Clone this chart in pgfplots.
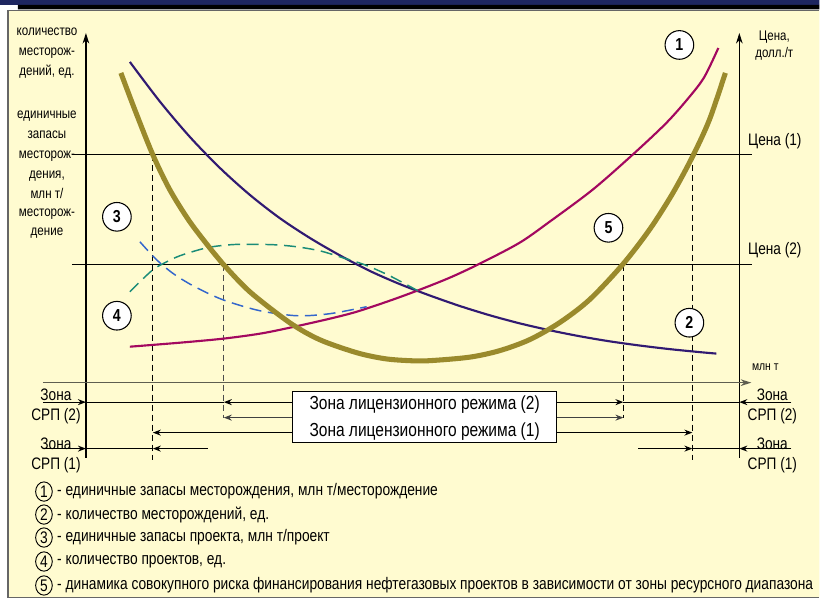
\documentclass[border=0pt]{standalone}
\usepackage{pgfplots}
\pgfplotsset{compat=1.18}
\usepackage{fontspec}
\setmainfont[FakeStretch=0.82]{Liberation Sans}
\usetikzlibrary{arrows.meta,shapes.geometric}
\definecolor{panel}{HTML}{FFFBD0}
\definecolor{topnavy}{HTML}{1E2660}
\definecolor{cmag}{HTML}{A3085F}
\definecolor{cnavy}{HTML}{311A72}
\definecolor{colive}{HTML}{9A8A2C}
\definecolor{cteal}{HTML}{1A8C78}
\definecolor{cblue}{HTML}{3366CC}
\definecolor{xaxc}{HTML}{5E5E50}
\newcommand\fs[1]{\fontsize{#1}{#1}\selectfont}
\begin{document}
\begin{tikzpicture}
\begin{axis}[width=615pt,height=451.5pt,scale only axis,
  xmin=0,xmax=820,ymin=0,ymax=602,y dir=reverse,
  hide axis,clip=false]
% frame
\addplot[fill=white,draw=none] coordinates {(0,0)(820,0)(820,602)(0,602)(0,0)};
\addplot[fill=topnavy,draw=none] coordinates {(0,0)(820,0)(820,5)(0,5)(0,0)};
\addplot[fill=black,draw=none] coordinates {(18,5)(820,5)(820,9.5)(18,9.5)(18,5)};
\addplot[fill=panel,draw=none] coordinates {(8,10.5)(820,10.5)(820,598)(8,598)(8,10.5)};
\addplot[draw=gray!80!black,line width=1.1pt] coordinates {(820,10.5)(8,10.5)(8,598)(820,598)};
% price lines
\addplot[black,line width=0.8pt] coordinates {(72,155)(753,155)};
\addplot[black,line width=0.8pt] coordinates {(72,265)(753,265)};
% dashed verticals
\addplot[black,line width=0.8pt,dash pattern=on 4.5pt off 3pt] coordinates {(153,155)(153,460)};
\addplot[gray!60!black,line width=0.9pt,dash pattern=on 4.5pt off 3pt] coordinates {(224,265)(224,418)};
\addplot[black,line width=0.8pt,dash pattern=on 4.5pt off 3pt] coordinates {(624,265)(624,418)};
\addplot[black,line width=0.8pt,dash pattern=on 4.5pt off 3pt] coordinates {(693,155)(693,460)};
% axes
\addplot[black,line width=0.9pt,-{Stealth[length=8pt,width=5pt]}] coordinates {(86,458)(86,33)};
\addplot[black,line width=0.9pt,-{Stealth[length=8pt,width=5pt]}] coordinates {(740,458)(740,33)};
\addplot[xaxc,line width=1.1pt,-{Stealth[length=8pt,width=5pt]}] coordinates {(43,383)(752,383)};
% curve 2 (navy)
\addplot[cnavy,line width=1.6pt,smooth] coordinates {(130,62)(160,101.6)(190,137)(220,168)(250,195)(280,218.3)(310,238.1)(340,255.5)(370,271.1)(400,284.3)(430,295.7)(460,306.2)(490,315.5)(520,323.6)(550,330.5)(580,336.5)(610,341.6)(640,345.8)(670,349.4)(700,352.4)(717,353.9)};
% curve 1 (magenta)
\addplot[cmag,line width=1.6pt,smooth] coordinates {(130,347)(180,343)(223,339)(260,334)(290,328)(330,319)(357,312)(390,301)(420,290)(450,278)(480,264)(520,243)(550,222)(593,190)(633,155)(667,123)(690,97)(705,77)(719,48)};
% curve 3 (blue dashed)
\addplot[cblue,line width=1.1pt,smooth,dash pattern=on 9pt off 5pt] coordinates {(140,242)(150,253)(160,263)(175,275)(195,287)(223,300)(260,311)(297,316)(330,314)(367,307)};
% curve 4 (teal dashed)
\addplot[cteal,line width=1.1pt,smooth,dash pattern=on 9pt off 5pt] coordinates {(130,292)(140,282)(153,270)(163,264)(180,256)(207,248)(230,245)(250,244.5)(275,245)(297,247)(320,251)(340,257)(365,265)(390,276)(420,292)};
% curve 5 (olive)
\addplot[colive,line width=3.8pt,smooth] coordinates {(121,73)(135,110)(153,155)(170,190)(190,222)(213,252)(223,264)(250,292)(290,323)(320,340)(357,353)(385,359)(410,361)(430,361)(470,357.5)(500,351)(530,340)(560,323)(590,300)(623,265)(650,230)(673,194)(693,157)(710,120)(726,73)};
% zone arrows left
\addplot[black,line width=0.9pt,-{Stealth[length=6pt,width=4.5pt]}] coordinates {(43,402.5)(86,402.5)};
\addplot[black,line width=0.9pt] coordinates {(86,402.5)(224,402.5)};
\addplot[black,line width=0.9pt,-{Stealth[length=6pt,width=4.5pt]}] coordinates {(293,402.5)(224,402.5)};
\addplot[gray!50!black,line width=0.9pt,-{Stealth[length=6pt,width=4.5pt]}] coordinates {(293,418)(224,418)};
\addplot[black,line width=0.9pt,-{Stealth[length=6pt,width=4.5pt]}] coordinates {(293,433)(153,433)};
\addplot[black,line width=0.9pt,-{Stealth[length=6pt,width=4.5pt]}] coordinates {(43,449)(86,449)};
\addplot[black,line width=0.9pt] coordinates {(86,449)(153,449)};
\addplot[black,line width=0.9pt,-{Stealth[length=6pt,width=4.5pt]}] coordinates {(208,449)(153,449)};
% zone arrows right
\addplot[black,line width=0.9pt,-{Stealth[length=6pt,width=4.5pt]}] coordinates {(557,402.5)(624,402.5)};
\addplot[black,line width=0.9pt] coordinates {(624,402.5)(740,402.5)};
\addplot[black,line width=0.9pt,-{Stealth[length=6pt,width=4.5pt]}] coordinates {(792,402.5)(740,402.5)};
\addplot[gray!50!black,line width=0.9pt,-{Stealth[length=6pt,width=4.5pt]}] coordinates {(557,418)(624,418)};
\addplot[black,line width=0.9pt,-{Stealth[length=6pt,width=4.5pt]}] coordinates {(557,433)(693,433)};
\addplot[black,line width=0.9pt,-{Stealth[length=6pt,width=4.5pt]}] coordinates {(639,449)(693,449)};
\addplot[black,line width=0.9pt] coordinates {(693,449)(740,449)};
\addplot[black,line width=0.9pt,-{Stealth[length=6pt,width=4.5pt]}] coordinates {(792,449)(740,449)};
% box
\node[draw=black,fill=white,line width=0.7pt,minimum width=198pt,minimum height=38.5pt,inner sep=0pt] at (axis cs:425,417.5) {};
\node[anchor=base,font=\fs{14.2}] at (axis cs:425,410) {Зона лицензионного режима (2)};
\node[anchor=base,font=\fs{14.2}] at (axis cs:425,437) {Зона лицензионного режима (1)};
% zone labels
\node[anchor=base,font=\fs{12.5}] at (axis cs:56,401) {Зона};
\node[anchor=base,font=\fs{12.5}] at (axis cs:56,421) {СРП (2)};
\node[anchor=base,font=\fs{12.5}] at (axis cs:56,450) {Зона};
\node[anchor=base,font=\fs{12.5}] at (axis cs:56,470) {СРП (1)};
\node[anchor=base,font=\fs{12.5}] at (axis cs:773,401) {Зона};
\node[anchor=base,font=\fs{12.5}] at (axis cs:773,421) {СРП (2)};
\node[anchor=base,font=\fs{12.5}] at (axis cs:773,450) {Зона};
\node[anchor=base,font=\fs{12.5}] at (axis cs:773,470) {СРП (1)};
% axis labels left
\node[anchor=base,font=\fs{10.6}] at (axis cs:47,36) {количество};
\node[anchor=base,font=\fs{10.6}] at (axis cs:47,56) {месторож-};
\node[anchor=base,font=\fs{10.6}] at (axis cs:47,76) {дений, ед.};
\node[anchor=base,font=\fs{10.6}] at (axis cs:47,119) {единичные};
\node[anchor=base,font=\fs{10.6}] at (axis cs:47,139) {запасы};
\node[anchor=base,font=\fs{10.6}] at (axis cs:47,159) {месторож-};
\node[anchor=base,font=\fs{10.6}] at (axis cs:47,179) {дения,};
\node[anchor=base,font=\fs{10.6}] at (axis cs:47,199) {млн т/};
\node[anchor=base,font=\fs{10.6}] at (axis cs:47,217) {месторож-};
\node[anchor=base,font=\fs{10.6}] at (axis cs:47,236) {дение};
% right labels
\node[anchor=base,font=\fs{10.5}] at (axis cs:775,41) {Цена,};
\node[anchor=base,font=\fs{10.5}] at (axis cs:775,58) {долл./т};
\node[anchor=base,font=\fs{12.5}] at (axis cs:775.5,146) {Цена (1)};
\node[anchor=base,font=\fs{12.5}] at (axis cs:775.5,255) {Цена (2)};
\node[anchor=base,font=\fs{9.5}] at (axis cs:766,371) {млн т};
% circled numbers
\foreach \n/\x/\y in {1/680/45,3/117/217,4/117/316,5/609/228,2/690/323}{
  \edef\tmp{\noexpand\node[circle,draw=black,fill=white,line width=0.8pt,minimum size=21.5pt,inner sep=0pt,font=\noexpand\bfseries\noexpand\fs{13}] at (axis cs:\x,\y) {\n};}
  \tmp
}
% legend
\foreach \n/\y/\t in {1/492/{- единичные запасы месторождения, млн т/месторождение},
                      2/515/{- количество месторождений, ед.},
                      3/538/{- единичные запасы проекта, млн т/проект},
                      4/562/{- количество проектов, ед.},
                      5/586/{- динамика совокупного риска финансирования нефтегазовых проектов в зависимости от зоны ресурсного диапазона}}{
  \edef\tmp{\noexpand\node[ellipse,draw=black,line width=0.7pt,minimum width=12.5pt,minimum height=14.5pt,inner sep=0pt,font=\noexpand\fs{12.6}] at (axis cs:44,\y) {\n};
  \noexpand\node[anchor=west,font=\noexpand\fs{12.6},inner sep=0pt] at (axis cs:57,\y) {\unexpanded\expandafter{\t}};}
  \tmp
}
\end{axis}
\end{tikzpicture}
\end{document}
